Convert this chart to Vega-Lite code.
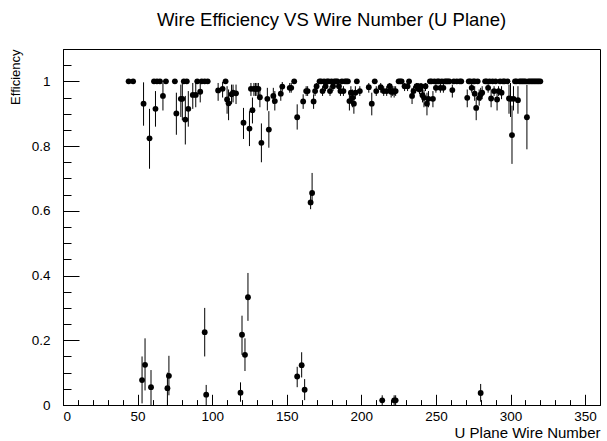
{
"$schema": "https://vega.github.io/schema/vega-lite/v6.json",
"width": 537, "height": 356,
"autosize": "none",
"padding": {"left": 63, "top": 49, "right": 7, "bottom": 36},
"background": "white",
"config": {"view": {"stroke": "black", "strokeWidth": 1}, "font": "Liberation Sans"},
"title": {"text": "Wire Efficiency VS Wire Number (U Plane)", "fontSize": 18.5, "fontWeight": "normal", "font": "Liberation Sans", "color": "black", "anchor": "middle", "baseline": "alphabetic", "offset": 4},
"datasets": {
"eff": [
{"w":44,"e":1,"lo":1,"hi":1},{"w":47,"e":1,"lo":1,"hi":1},{"w":61,"e":1,"lo":1,"hi":1},{"w":63,"e":1,"lo":1,"hi":1},{"w":65,"e":1,"lo":1,"hi":1},{"w":69,"e":1,"lo":1,"hi":1},{"w":75,"e":1,"lo":1,"hi":1},{"w":81,"e":1,"lo":1,"hi":1},{"w":83,"e":1,"lo":1,"hi":1},{"w":90,"e":1,"lo":1,"hi":1},{"w":93,"e":1,"lo":1,"hi":1},{"w":95,"e":1,"lo":1,"hi":1},{"w":97,"e":1,"lo":1,"hi":1},{"w":109,"e":1,"lo":1,"hi":1},{"w":155,"e":1,"lo":1,"hi":1},
{"w":172,"e":1,"lo":1,"hi":1},{"w":173,"e":1,"lo":1,"hi":1},{"w":175,"e":1,"lo":1,"hi":1},{"w":177,"e":1,"lo":1,"hi":1},{"w":178,"e":1,"lo":1,"hi":1},{"w":180,"e":1,"lo":1,"hi":1},{"w":182,"e":1,"lo":1,"hi":1},{"w":183,"e":1,"lo":1,"hi":1},{"w":184,"e":1,"lo":1,"hi":1},{"w":187,"e":1,"lo":1,"hi":1},{"w":189,"e":1,"lo":1,"hi":1},{"w":190,"e":1,"lo":1,"hi":1},{"w":191,"e":1,"lo":1,"hi":1},{"w":197,"e":1,"lo":1,"hi":1},{"w":209,"e":1,"lo":1,"hi":1},{"w":225,"e":1,"lo":1,"hi":1},{"w":226,"e":1,"lo":1,"hi":1},{"w":227,"e":1,"lo":1,"hi":1},{"w":232,"e":1,"lo":1,"hi":1},
{"w":246,"e":1,"lo":1,"hi":1},{"w":247,"e":1,"lo":1,"hi":1},{"w":249,"e":1,"lo":1,"hi":1},{"w":251,"e":1,"lo":1,"hi":1},{"w":252,"e":1,"lo":1,"hi":1},{"w":254,"e":1,"lo":1,"hi":1},{"w":256,"e":1,"lo":1,"hi":1},{"w":257,"e":1,"lo":1,"hi":1},{"w":258,"e":1,"lo":1,"hi":1},{"w":259,"e":1,"lo":1,"hi":1},{"w":262,"e":1,"lo":1,"hi":1},{"w":264,"e":1,"lo":1,"hi":1},{"w":266,"e":1,"lo":1,"hi":1},{"w":267,"e":1,"lo":1,"hi":1},
{"w":272,"e":1,"lo":1,"hi":1},{"w":273,"e":1,"lo":1,"hi":1},{"w":275,"e":1,"lo":1,"hi":1},{"w":276,"e":1,"lo":1,"hi":1},{"w":278,"e":1,"lo":1,"hi":1},{"w":283,"e":1,"lo":1,"hi":1},{"w":284,"e":1,"lo":1,"hi":1},{"w":286,"e":1,"lo":1,"hi":1},{"w":288,"e":1,"lo":1,"hi":1},{"w":290,"e":1,"lo":1,"hi":1},{"w":293,"e":1,"lo":1,"hi":1},{"w":295,"e":1,"lo":1,"hi":1},{"w":296,"e":1,"lo":1,"hi":1},{"w":298,"e":1,"lo":1,"hi":1},
{"w":303,"e":1,"lo":1,"hi":1},{"w":304,"e":1,"lo":1,"hi":1},{"w":306,"e":1,"lo":1,"hi":1},{"w":307,"e":1,"lo":1,"hi":1},{"w":308,"e":1,"lo":1,"hi":1},{"w":309,"e":1,"lo":1,"hi":1},{"w":310,"e":1,"lo":1,"hi":1},{"w":312,"e":1,"lo":1,"hi":1},{"w":313,"e":1,"lo":1,"hi":1},{"w":314,"e":1,"lo":1,"hi":1},{"w":315,"e":1,"lo":1,"hi":1},{"w":316,"e":1,"lo":1,"hi":1},{"w":317,"e":1,"lo":1,"hi":1},{"w":318,"e":1,"lo":1,"hi":1},{"w":319,"e":1,"lo":1,"hi":1},{"w":320,"e":1,"lo":1,"hi":1},
{"w":54,"e":0.931,"lo":0.863,"hi":0.997},
{"w":58,"e":0.824,"lo":0.73,"hi":0.915},
{"w":62,"e":0.915,"lo":0.86,"hi":0.97},
{"w":67,"e":0.955,"lo":0.91,"hi":0.995},
{"w":76,"e":0.901,"lo":0.835,"hi":0.965},
{"w":79,"e":0.946,"lo":0.89,"hi":0.99},
{"w":80,"e":0.946,"lo":0.88,"hi":0.995},
{"w":82,"e":0.882,"lo":0.805,"hi":0.955},
{"w":84,"e":0.915,"lo":0.86,"hi":0.97},
{"w":87,"e":0.958,"lo":0.915,"hi":0.995},
{"w":89,"e":0.958,"lo":0.92,"hi":0.995},
{"w":92,"e":0.968,"lo":0.935,"hi":0.995},
{"w":104,"e":0.972,"lo":0.94,"hi":0.995},
{"w":107,"e":0.977,"lo":0.95,"hi":0.998},
{"w":110,"e":0.944,"lo":0.9,"hi":0.985},
{"w":111,"e":0.932,"lo":0.88,"hi":0.975},
{"w":113,"e":0.96,"lo":0.93,"hi":0.99},
{"w":114,"e":0.965,"lo":0.935,"hi":0.99},
{"w":116,"e":0.963,"lo":0.93,"hi":0.99},
{"w":121,"e":0.872,"lo":0.822,"hi":0.918},
{"w":125,"e":0.854,"lo":0.8,"hi":0.908},
{"w":126,"e":0.977,"lo":0.955,"hi":0.995},
{"w":127,"e":0.911,"lo":0.87,"hi":0.95},
{"w":128,"e":0.977,"lo":0.955,"hi":0.995},
{"w":129,"e":0.977,"lo":0.955,"hi":0.995},
{"w":130,"e":0.977,"lo":0.955,"hi":0.995},
{"w":131,"e":0.977,"lo":0.955,"hi":0.995},
{"w":132,"e":0.951,"lo":0.92,"hi":0.98},
{"w":133,"e":0.81,"lo":0.75,"hi":0.87},
{"w":137,"e":0.946,"lo":0.91,"hi":0.98},
{"w":138,"e":0.851,"lo":0.795,"hi":0.908},
{"w":141,"e":0.955,"lo":0.93,"hi":0.98},
{"w":142,"e":0.939,"lo":0.91,"hi":0.97},
{"w":146,"e":0.962,"lo":0.94,"hi":0.985},
{"w":147,"e":0.984,"lo":0.97,"hi":0.998},
{"w":152,"e":0.98,"lo":0.965,"hi":0.995},
{"w":153,"e":0.98,"lo":0.965,"hi":0.995},
{"w":157,"e":0.889,"lo":0.851,"hi":0.929},
{"w":161,"e":0.938,"lo":0.915,"hi":0.96},
{"w":163,"e":0.97,"lo":0.955,"hi":0.985},
{"w":164,"e":0.97,"lo":0.955,"hi":0.985},
{"w":166,"e":0.626,"lo":0.605,"hi":0.66},
{"w":167,"e":0.655,"lo":0.625,"hi":0.717},
{"w":168,"e":0.938,"lo":0.915,"hi":0.96},
{"w":169,"e":0.97,"lo":0.955,"hi":0.985},
{"w":170,"e":0.985,"lo":0.97,"hi":0.995},
{"w":174,"e":0.97,"lo":0.955,"hi":0.985},
{"w":176,"e":0.985,"lo":0.97,"hi":0.995},
{"w":179,"e":0.97,"lo":0.955,"hi":0.985},
{"w":181,"e":0.985,"lo":0.97,"hi":0.995},
{"w":185,"e":0.985,"lo":0.97,"hi":0.995},
{"w":186,"e":0.97,"lo":0.955,"hi":0.985},
{"w":188,"e":0.97,"lo":0.955,"hi":0.985},
{"w":192,"e":0.939,"lo":0.91,"hi":0.965},
{"w":193,"e":0.965,"lo":0.945,"hi":0.985},
{"w":194,"e":0.949,"lo":0.92,"hi":0.975},
{"w":195,"e":0.931,"lo":0.9,"hi":0.96},
{"w":196,"e":0.965,"lo":0.945,"hi":0.985},
{"w":199,"e":0.97,"lo":0.955,"hi":0.985},
{"w":205,"e":0.982,"lo":0.965,"hi":0.995},
{"w":207,"e":0.931,"lo":0.895,"hi":0.965},
{"w":210,"e":0.97,"lo":0.955,"hi":0.985},
{"w":213,"e":0.982,"lo":0.965,"hi":0.995},
{"w":215,"e":0.97,"lo":0.955,"hi":0.985},
{"w":217,"e":0.97,"lo":0.955,"hi":0.985},
{"w":219,"e":0.985,"lo":0.97,"hi":0.995},
{"w":220,"e":0.968,"lo":0.95,"hi":0.985},
{"w":221,"e":0.97,"lo":0.955,"hi":0.985},
{"w":222,"e":0.968,"lo":0.95,"hi":0.985},
{"w":223,"e":0.97,"lo":0.955,"hi":0.985},
{"w":229,"e":0.985,"lo":0.97,"hi":0.995},
{"w":231,"e":0.985,"lo":0.97,"hi":0.995},
{"w":234,"e":0.955,"lo":0.93,"hi":0.98},
{"w":235,"e":0.97,"lo":0.955,"hi":0.985},
{"w":237,"e":0.985,"lo":0.97,"hi":0.995},
{"w":238,"e":0.985,"lo":0.97,"hi":0.995},
{"w":239,"e":0.975,"lo":0.96,"hi":0.99},
{"w":240,"e":0.985,"lo":0.97,"hi":0.995},
{"w":241,"e":0.957,"lo":0.935,"hi":0.98},
{"w":242,"e":0.949,"lo":0.92,"hi":0.975},
{"w":243,"e":0.985,"lo":0.97,"hi":0.995},
{"w":244,"e":0.931,"lo":0.895,"hi":0.965},
{"w":245,"e":0.946,"lo":0.92,"hi":0.97},
{"w":248,"e":0.946,"lo":0.92,"hi":0.97},
{"w":250,"e":0.98,"lo":0.965,"hi":0.995},
{"w":253,"e":0.98,"lo":0.965,"hi":0.995},
{"w":255,"e":0.98,"lo":0.965,"hi":0.995},
{"w":261,"e":0.973,"lo":0.95,"hi":0.99},
{"w":271,"e":0.949,"lo":0.92,"hi":0.975},
{"w":274,"e":0.98,"lo":0.965,"hi":0.995},
{"w":276,"e":0.962,"lo":0.94,"hi":0.985},
{"w":277,"e":0.918,"lo":0.88,"hi":0.95},
{"w":279,"e":0.949,"lo":0.925,"hi":0.975},
{"w":280,"e":0.96,"lo":0.94,"hi":0.98},
{"w":281,"e":0.965,"lo":0.945,"hi":0.985},
{"w":285,"e":0.98,"lo":0.965,"hi":0.995},
{"w":287,"e":0.947,"lo":0.92,"hi":0.975},
{"w":289,"e":0.97,"lo":0.955,"hi":0.985},
{"w":291,"e":0.944,"lo":0.91,"hi":0.975},
{"w":292,"e":0.97,"lo":0.955,"hi":0.985},
{"w":294,"e":0.965,"lo":0.945,"hi":0.985},
{"w":299,"e":0.947,"lo":0.9,"hi":0.99},
{"w":300,"e":0.946,"lo":0.89,"hi":0.995},
{"w":301,"e":0.834,"lo":0.745,"hi":0.925},
{"w":302,"e":0.946,"lo":0.91,"hi":0.985},
{"w":305,"e":0.942,"lo":0.9,"hi":0.985},
{"w":311,"e":0.889,"lo":0.79,"hi":0.99},
{"w":53,"e":0.077,"lo":0.005,"hi":0.15},
{"w":55,"e":0.124,"lo":0.045,"hi":0.206},
{"w":59,"e":0.055,"lo":0.0,"hi":0.108},
{"w":70,"e":0.052,"lo":0.0,"hi":0.1},
{"w":71,"e":0.09,"lo":0.03,"hi":0.152},
{"w":95,"e":0.225,"lo":0.15,"hi":0.3},
{"w":96,"e":0.032,"lo":0.0,"hi":0.062},
{"w":119,"e":0.038,"lo":0.01,"hi":0.07},
{"w":120,"e":0.217,"lo":0.155,"hi":0.276},
{"w":122,"e":0.155,"lo":0.105,"hi":0.206},
{"w":124,"e":0.333,"lo":0.26,"hi":0.408},
{"w":157,"e":0.088,"lo":0.055,"hi":0.118},
{"w":160,"e":0.123,"lo":0.085,"hi":0.163},
{"w":162,"e":0.047,"lo":0.015,"hi":0.08},
{"w":214,"e":0.0145,"lo":0.0,"hi":0.03},
{"w":222,"e":0.0145,"lo":0.0,"hi":0.03},
{"w":223,"e":0.0145,"lo":0.0,"hi":0.03},
{"w":280,"e":0.037,"lo":0.01,"hi":0.065}
]},
"data": {"name": "eff"},
"layer": [
{"mark": {"type": "rule", "color": "black", "strokeWidth": 1},
 "encoding": {
  "x": {"field": "w", "type": "quantitative", "scale": {"domain": [0, 360], "nice": false, "zero": false},
   "axis": {"orient": "bottom", "values": [0,10,20,30,40,50,60,70,80,90,100,110,120,130,140,150,160,170,180,190,200,210,220,230,240,250,260,270,280,290,300,310,320,330,340,350,360], "tickSize": -5.4, "tickColor": "black", "labels": false, "domain": false, "title": null, "grid": false}},
  "y": {"field": "lo", "type": "quantitative", "scale": {"domain": [0, 1.1], "nice": false},
   "axis": {"orient": "left", "values": [0,0.05,0.1,0.15,0.2,0.25,0.3,0.35,0.4,0.45,0.5,0.55,0.6,0.65,0.7,0.75,0.8,0.85,0.9,0.95,1,1.05,1.1], "tickSize": -8, "tickColor": "black", "labels": false, "domain": false, "title": null, "grid": false}},
  "y2": {"field": "hi"}
 }},
{"mark": {"type": "circle", "color": "black", "opacity": 1, "size": 34},
 "encoding": {
  "x": {"field": "w", "type": "quantitative",
   "axis": {"orient": "bottom", "values": [0,50,100,150,200,250,300,350], "tickSize": -10.7, "tickColor": "black", "domainColor": "black", "grid": false, "labelFontSize": 13.5, "labelColor": "black", "labelFont": "Liberation Sans", "labelPadding": 15, "title": "U Plane Wire Number", "titleFont": "Liberation Sans", "titleFontSize": 15, "titleFontWeight": "normal", "titleColor": "black", "titleAnchor": "end", "titleAlign": "right", "titleX": 537, "titleY": 32, "titleBaseline": "alphabetic"}},
  "y": {"field": "e", "type": "quantitative",
   "axis": {"orient": "left", "values": [0,0.2,0.4,0.6,0.8,1], "format": ".1~f", "tickSize": -16, "tickColor": "black", "domainColor": "black", "grid": false, "labelFontSize": 13.5, "labelColor": "black", "labelFont": "Liberation Sans", "labelPadding": 29, "title": "Efficiency", "titleFont": "Liberation Sans", "titleFontSize": 13, "titleFontWeight": "normal", "titleColor": "black", "titleAnchor": "end", "titleAlign": "right", "titleAngle": -90, "titleX": -44, "titleY": 0, "titleBaseline": "alphabetic"}}
 }}
],
"resolve": {"axis": {"x": "independent", "y": "independent"}}
}
